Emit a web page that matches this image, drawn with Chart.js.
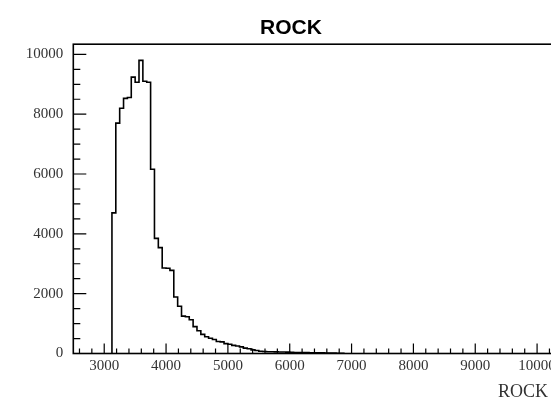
<!DOCTYPE html>
<html>
<head>
<meta charset="utf-8">
<script src="https://cdn.jsdelivr.net/npm/chart.js@4"></script>
<style>
html, body { margin: 0; padding: 0; overflow: hidden; background: #fff; }
canvas { display: block; }
</style>
</head>
<body>
<canvas id="chart" width="582" height="399"></canvas>
<script>
'use strict';

// ROCK histogram, 62.5 wide bins, first filled bin starts at 3125
const binLow = 3125;
const binWidth = 62.5;
const counts = [
    4700, 7700, 8200, 8530, 8560, 9240, 9070, 9800, 9100, 9070,
    6160, 3850, 3540, 2860, 2850, 2780, 1890, 1580, 1250, 1230,
    1130, 900, 760, 640, 560, 510, 470, 400, 390, 330,
    310, 270, 250, 220, 180, 160, 120, 100, 75, 65,
    60, 60, 55, 50, 50, 45, 40, 35, 35, 30,
    30, 25, 25, 20, 20, 15, 15, 12, 10, 5
];
const xRange = [2500, 10500];
const yRange = [0, 10340];
const xTicks = [3000, 4000, 5000, 6000, 7000, 8000, 9000, 10000];
const yTicks = [0, 2000, 4000, 6000, 8000, 10000];
const xMinorStep = 200;
const yMinorStep = 500;
const histTitle = 'ROCK';
const xTitle = 'ROCK';

document.addEventListener('DOMContentLoaded', () => {
    // outline points at bin edges
    let points = [{ x: binLow, y: 0 }];
    counts.forEach((c, i) => points.push({ x: binLow + i * binWidth, y: c }));
    points.push({ x: binLow + counts.length * binWidth, y: 0 });

    const tickFont = { family: 'Liberation Serif', size: 15 };

    // ROOT style frame with inward ticks
    const rootFrame = {
        id: 'rootFrame',
        afterDatasetsDraw(chart) {
            const { ctx, chartArea: a, scales } = chart;
            const x = scales.x;
            const y = scales.y;
            ctx.save();
            ctx.strokeStyle = '#000';
            ctx.lineWidth = 1.6;
            ctx.strokeRect(a.left, a.top, a.right - a.left, a.bottom - a.top);

            ctx.beginPath();
            for (let v = yRange[0]; v <= yRange[1]; v += yMinorStep) {
                const py = y.getPixelForValue(v);
                const len = yTicks.includes(v) ? 13 : 7;
                ctx.moveTo(a.left, py);
                ctx.lineTo(a.left + len, py);
            }
            for (let v = Math.ceil(xRange[0] / xMinorStep) * xMinorStep; v <= xRange[1]; v += xMinorStep) {
                const px = x.getPixelForValue(v);
                const len = xTicks.includes(v) ? 10 : 5;
                ctx.moveTo(px, a.bottom);
                ctx.lineTo(px, a.bottom - len);
            }
            ctx.lineWidth = 1.2;
            ctx.stroke();

            // axis title at the right end
            ctx.fillStyle = '#333';
            ctx.font = '18px "Liberation Serif"';
            ctx.textAlign = 'right';
            ctx.textBaseline = 'alphabetic';
            ctx.fillText(xTitle, 548, 397);
            ctx.restore();
        }
    };

    new Chart(document.getElementById('chart'), {
        type: 'line',
        data: {
            datasets: [{
                data: points,
                stepped: 'before',
                borderColor: '#000',
                borderWidth: 1.6,
                pointRadius: 0,
                fill: false
            }]
        },
        options: {
            responsive: false,
            animation: false,
            layout: { padding: { left: 14, right: 14, top: 0, bottom: 0 } },
            plugins: {
                legend: { display: false },
                tooltip: { enabled: false },
                title: {
                    display: true,
                    text: histTitle,
                    color: '#000',
                    font: { family: 'Liberation Sans', size: 21, weight: 'bold' },
                    padding: { top: 16, bottom: 3 }
                }
            },
            scales: {
                x: {
                    type: 'linear',
                    min: xRange[0],
                    max: xRange[1],
                    grid: { display: false, drawTicks: false },
                    border: { display: false },
                    afterBuildTicks: s => { s.ticks = xTicks.map(v => ({ value: v })); },
                    ticks: {
                        autoSkip: false,
                        maxRotation: 0,
                        padding: 4,
                        color: '#333',
                        font: tickFont,
                        callback: v => String(v)
                    },
                    afterFit: s => { s.height = 45.5; }
                },
                y: {
                    min: yRange[0],
                    max: yRange[1],
                    grid: { display: false, drawTicks: false },
                    border: { display: false },
                    afterBuildTicks: s => { s.ticks = yTicks.map(v => ({ value: v })); },
                    ticks: {
                        padding: 10,
                        color: '#333',
                        font: tickFont,
                        callback: v => String(v)
                    },
                    afterFit: s => { s.width = 59.3; }
                }
            }
        },
        plugins: [rootFrame]
    });
});
</script>
</body>
</html>
